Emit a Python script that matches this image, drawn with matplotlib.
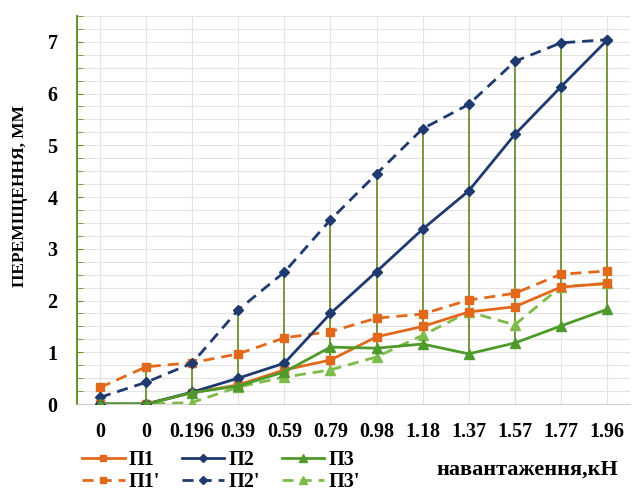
import numpy as np
import matplotlib.pyplot as plt

plt.rcParams['font.family'] = ['Liberation Serif', 'DejaVu Serif']

loads = ['0', '0', '0.196', '0.39', '0.59', '0.79', '0.98', '1.18', '1.37', '1.57', '1.77', '1.96']

p1 = [0, 0, 0.22, 0.37, 0.66, 0.85, 1.30, 1.50, 1.78, 1.88, 2.26, 2.33]
p2 = [0, 0, 0.23, 0.50, 0.79, 1.75, 2.56, 3.38, 4.12, 5.21, 6.13, 7.03]
p3 = [0, 0, 0.22, 0.35, 0.62, 1.10, 1.08, 1.16, 0.97, 1.18, 1.51, 1.83]
p1d = [0.32, 0.72, 0.80, 0.97, 1.28, 1.40, 1.66, 1.74, 2.01, 2.14, 2.51, 2.57]
p2d = [0.13, 0.42, 0.79, 1.82, 2.55, 3.56, 4.45, 5.32, 5.79, 6.62, 6.98, 7.04]
p3d = [0, 0, 0.03, 0.33, 0.52, 0.66, 0.91, 1.33, 1.78, 1.53, 2.27, 2.33]

orange = '#E2691C'
navy = '#1F3A6E'
green = '#4F9A2B'
lgreen = '#7DBB4A'

fig = plt.figure(figsize=(6.41, 4.97), dpi=100)
ax = fig.add_axes([0.12, 0.187, 0.863, 0.781])

x = np.arange(len(loads))
allv = np.array([p1, p2, p3, p1d, p2d, p3d])
ax.vlines(x, allv.min(axis=0), allv.max(axis=0), color='#6E9130', lw=1.3, zorder=2)

dash = (0, (4, 2.5))
h1, = ax.plot(x, p1, color=orange, marker='s', ms=6, lw=2, label='П1', zorder=4)
h2, = ax.plot(x, p2, color=navy, marker='D', ms=5, lw=2, label='П2', zorder=4)
h3, = ax.plot(x, p3, color=green, marker='^', ms=7, lw=2, label='П3', zorder=4)
h1d, = ax.plot(x, p1d, color=orange, marker='s', ms=6, lw=2, ls=dash, label="П1'", zorder=3)
h2d, = ax.plot(x, p2d, color=navy, marker='D', ms=5, lw=2, ls=dash, label="П2'", zorder=3)
h3d, = ax.plot(x, p3d, color=lgreen, marker='^', ms=7, lw=2, ls=dash, label="П3'", zorder=3)

ax.set_xlim(-0.5, 11.5)
ax.set_ylim(0, 7.5)
ax.set_xticks(x)
ax.set_xticklabels(loads, fontsize=14.5, fontweight='bold')
ax.set_yticks(range(8))
ax.set_yticklabels([str(i) for i in range(8)], fontsize=14.5, fontweight='bold')
ax.set_yticks(np.arange(0, 7.51, 0.25), minor=True)
ax.tick_params(axis='x', length=0, pad=13)
ax.tick_params(axis='y', which='both', length=4, color='#6E9130', direction='in', pad=14)
ax.grid(True, which='both', axis='y', color='#E3E3E3', lw=0.8)
ax.grid(True, which='major', axis='x', color='#E3E3E3', lw=0.8)
ax.set_axisbelow(True)
for s in ['top', 'right']:
    ax.spines[s].set_visible(False)
ax.spines['left'].set_color('#6E9130')
ax.spines['left'].set_linewidth(1.5)
ax.spines['bottom'].set_color('#D0D0D0')

ax.set_ylabel('ПЕРЕМІЩЕННЯ, ММ', fontsize=12.5, fontweight='bold')
ax.yaxis.set_label_coords(-0.088, 0.535)

# legend rows: П1 П2 П3 / П1' П2' П3'
fig.legend([h1, h1d, h2, h2d, h3, h3d], ['П1', "П1'", 'П2', "П2'", 'П3', "П3'"],
           loc='lower left', bbox_to_anchor=(0.1, -0.026), ncol=3, frameon=False,
           prop={'size': 14.5, 'weight': 'bold'}, handlelength=2.1, columnspacing=1.1,
           labelspacing=0.1, handletextpad=0.2, markerscale=0.8)
fig.text(0.965, 0.045, 'навантаження,кН', fontsize=16, fontweight='bold', ha='right')

fig.savefig('out.png', dpi=100)
